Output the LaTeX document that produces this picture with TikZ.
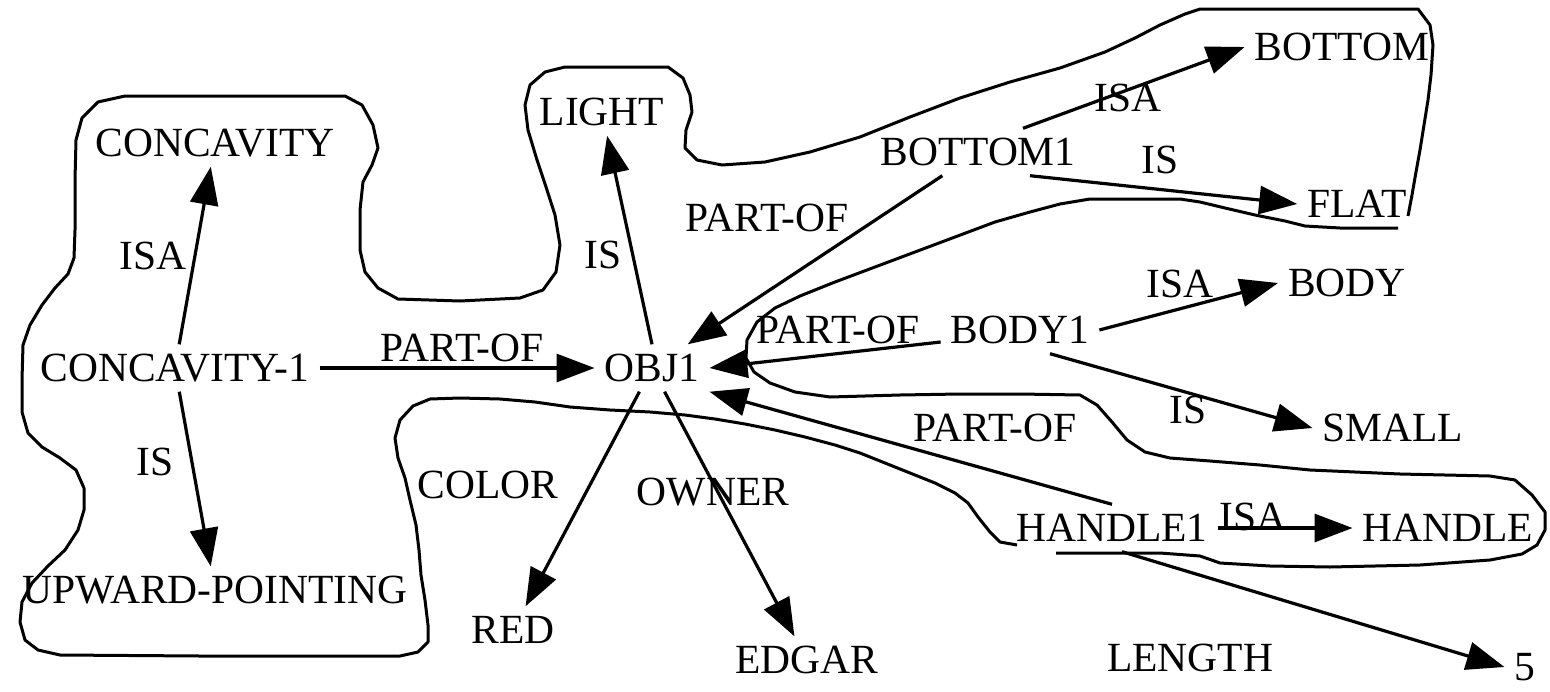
\documentclass[tikz,border=0pt]{standalone}
\usepackage{fontspec}
\setmainfont{Liberation Serif}
\usetikzlibrary{arrows.meta}

\tikzset{
  concept/.style={inner sep=10pt, font=\fontsize{41.5}{45}\selectfont, text height=27pt, text depth=0pt},
  rel/.style={inner sep=0pt, font=\fontsize{41.5}{45}\selectfont, text height=27pt, text depth=0pt},
  link/.style={line width=3.2pt, -{Triangle[length=38pt,width=28pt]}},
  rim/.style={line width=3pt, line join=round},
}

\begin{document}
\begin{tikzpicture}[x=1pt,y=-1pt]
  \useasboundingbox (0,0) rectangle (1550,691);

  % Begriffe
  \node[concept] (concavity) at (215,143) {CONCAVITY};
  \node[concept] (c1) at (175,368) {CONCAVITY-1};
  \node[concept] (upward) at (215,590) {UPWARD-POINTING};
  \node[concept] (light) at (602,112) {LIGHT};
  \node[concept] (obj) at (652,368) {OBJ1};
  \node[concept] (red) at (513,630) {RED};
  \node[concept] (edgar) at (807,660) {EDGAR};
  \node[concept] (bottom1) at (978,152) {BOTTOM1};
  \node[concept] (bottom) at (1342,47) {BOTTOM};
  \node[concept] (flat) at (1357,204) {FLAT};
  \node[concept] (body1) at (1020,330) {BODY1};
  \node[concept] (body) at (1347,283) {BODY};
  \node[concept] (small) at (1393,428) {SMALL};
  \node[concept] (handle1) at (1112,528) {HANDLE1};
  \node[concept] (handle) at (1448,528) {HANDLE};
  \node[concept] (five) at (1525,667) {5};

  % Umriss
  \draw[rim] (1017,545) -- (1000,542) -- (990,532) -- (978,517) -- (968,503) -- (955,493)
    -- (935,483) -- (910,473) -- (885,463) -- (860,453) -- (835,445) -- (805,437)
    -- (775,430) -- (745,424) -- (715,419) -- (685,415) -- (650,412) -- (610,410)
    -- (570,407) -- (535,402) -- (500,399) -- (460,398) -- (430,399) -- (413,406)
    -- (400,420) -- (395,438) -- (398,458) -- (405,478) -- (410,500) -- (416,525)
    -- (419,550) -- (421,575) -- (425,600) -- (428,625) -- (428,642) -- (418,652)
    -- (400,656) -- (200,656) -- (60,655) -- (38,650) -- (25,640) -- (20,622)
    -- (22,602) -- (32,583) -- (48,566) -- (65,550) -- (78,530) -- (84,510)
    -- (84,488) -- (76,470) -- (60,458) -- (42,447) -- (28,433) -- (22,412)
    -- (22,380) -- (23,345) -- (30,325) -- (42,305) -- (55,288) -- (68,274)
    -- (74,258) -- (75,230) -- (75,180) -- (76,140) -- (82,118) -- (98,102)
    -- (125,96) -- (345,96) -- (362,105) -- (373,125) -- (378,148) -- (372,165)
    -- (363,182) -- (360,210) -- (360,250) -- (365,272) -- (378,288) -- (398,299)
    -- (460,301) -- (520,298) -- (543,290) -- (556,272) -- (560,245) -- (555,215)
    -- (547,190) -- (537,160) -- (528,130) -- (525,105) -- (530,85) -- (545,72)
    -- (565,67) -- (668,67) -- (683,78) -- (690,95) -- (692,112) -- (686,130)
    -- (685,148) -- (697,160) -- (722,165) -- (765,162) -- (810,152) -- (860,137)
    -- (910,117) -- (960,98) -- (1010,82) -- (1060,68) -- (1105,52) -- (1135,38)
    -- (1160,25) -- (1185,14) -- (1200,9) -- (1418,9) -- (1430,25) -- (1433,45)
    -- (1431,75) -- (1428,100) -- (1424,125) -- (1420,150) -- (1416,172) -- (1412,195)
    -- (1408,216);
  \draw[rim] (1398,228) -- (1340,228) -- (1305,226) -- (1285,221) -- (1255,215)
    -- (1225,208) -- (1200,202) -- (1180,199) -- (1090,199) -- (1060,204) -- (1030,212)
    -- (995,222) -- (955,237) -- (915,252) -- (875,267) -- (835,282) -- (800,296)
    -- (775,308) -- (757,322) -- (747,340) -- (746,358) -- (754,372) -- (770,383)
    -- (795,392) -- (830,397) -- (900,395) -- (960,394) -- (1020,394) -- (1080,395)
    -- (1097,405) -- (1112,422) -- (1127,440) -- (1145,452) -- (1170,458) -- (1210,461)
    -- (1260,465) -- (1310,470) -- (1400,474) -- (1490,476) -- (1515,480) -- (1532,495)
    -- (1545,512) -- (1545,530) -- (1537,545) -- (1522,554) -- (1490,560) -- (1420,565)
    -- (1330,567) -- (1270,566) -- (1220,563) -- (1200,556) -- (1160,553) -- (1056,553);

  % Relationen
  \draw[link] (c1) -- (concavity);
  \draw[link] (c1) -- (upward);
  \draw[link] (c1) -- (obj);
  \draw[link] (obj.north) -- (light);
  \draw[link] (obj) -- (red);
  \draw[link] (obj) -- (edgar);
  \draw[link] (bottom1) -- (obj);
  \draw[link] ([yshift=-12pt]body1.west) -- (obj.east);
  \draw[link] (handle1.north) -- (obj.south east);
  \draw[link] ([xshift=45pt]bottom1.north) -- (bottom.west);
  \draw[link] ([xshift=52pt]bottom1.south) -- (flat.west);
  \draw[link] (body1.east) -- (body.west);
  \draw[link] ([xshift=30pt]body1.south) -- (small.west);
  \draw[link] (handle1.east) -- (handle.west);
  \draw[link] ([xshift=10pt]handle1.south) -- (five.west);

  % Beschriftungen
  \node[rel] (isa1) at (153,256) {ISA};
  \node[rel] (is1) at (155,462) {IS};
  \node[rel] (partof1) at (462,348) {PART-OF};
  \node[rel] (is2) at (603,255) {IS};
  \node[rel] (partof2) at (767,218) {PART-OF};
  \node[rel] (partof3) at (838,330) {PART-OF};
  \node[rel] (partof4) at (995,428) {PART-OF};
  \node[rel] (color) at (488,485) {COLOR};
  \node[rel] (owner) at (713,492) {OWNER};
  \node[rel] (isa2) at (1128,98) {ISA};
  \node[rel] (is3) at (1160,160) {IS};
  \node[rel] (isa3) at (1180,284) {ISA};
  \node[rel] (is4) at (1188,410) {IS};
  \node[rel] (isa4) at (1253,517) {ISA};
  \node[rel] (length) at (1190,658) {LENGTH};
\end{tikzpicture}
\end{document}
